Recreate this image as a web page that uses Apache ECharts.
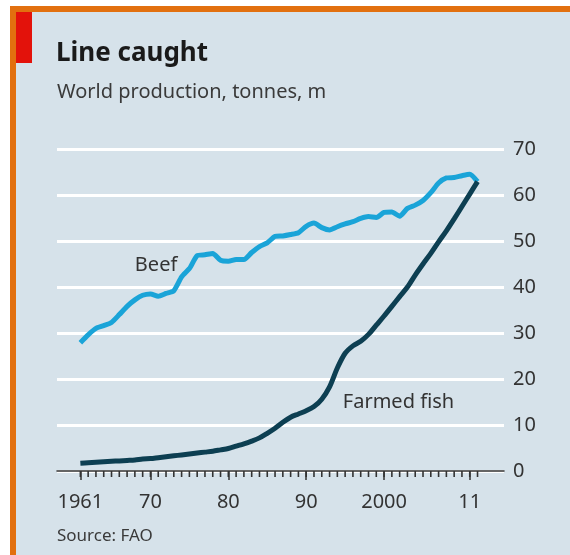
<!DOCTYPE html>
<html>
<head>
    <meta charset="utf-8">
    <title>Line caught</title>
    <script src="https://cdn.jsdelivr.net/npm/echarts@6.0.0/dist/echarts.min.js"></script>
    <style>
        html, body { margin: 0; padding: 0; background: #fff; }
        #chart { width: 570px; height: 555px; }
    </style>
</head>
<body>
<div id="chart"></div>
<script>
    // years 1961-2012
    var years = [];
    for (var y = 1961; y <= 2012; y++) years.push(y);

    // world production, tonnes m
    var beef = [27.9, 29.6, 31.0, 31.6, 32.3, 34.0, 35.8, 37.2, 38.2, 38.5,
                38.0, 38.6, 39.2, 42.2, 44.0, 46.8, 47.0, 47.3, 45.8, 45.6,
                46.0, 46.0, 47.5, 48.8, 49.6, 51.0, 51.1, 51.4, 51.8, 53.2,
                53.9, 52.9, 52.4, 53.1, 53.7, 54.2, 54.9, 55.3, 55.1, 56.2,
                56.3, 55.4, 57.1, 57.8, 58.8, 60.5, 62.6, 63.7, 63.8, 64.2,
                64.5, 62.9];
    var fish = [1.7, 1.8, 1.9, 2.0, 2.1, 2.2, 2.3, 2.4, 2.6, 2.7,
                2.9, 3.1, 3.3, 3.5, 3.7, 3.9, 4.1, 4.3, 4.6, 4.9,
                5.4, 5.9, 6.5, 7.2, 8.2, 9.3, 10.6, 11.7, 12.4, 13.1,
                14.0, 15.6, 18.3, 22.4, 25.6, 27.2, 28.2, 29.7, 31.7, 33.7,
                35.8, 37.9, 40.0, 42.6, 45.0, 47.3, 49.8, 52.2, 54.8, 57.5,
                60.2, 62.9];

    var xLabels = [1961, 1970, 1980, 1990, 2000, 2011];
    var yTicks = [0, 10, 20, 30, 40, 50, 60, 70];

    var font = '"Noto Sans", sans-serif';

    function pairs(vals) {
        return years.map(function(yr, i) { return [yr, vals[i]]; });
    }

    var chart = echarts.init(document.getElementById('chart'));

    var option = {
        backgroundColor: '#d6e2ea',
        animation: false,
        grid: { left: 57, right: 66, top: 149, bottom: 84 },
        xAxis: {
            type: 'value', min: 1958, max: 2015.4,
            axisLine: { show: true, lineStyle: { color: '#333', width: 1.5 } },
            axisTick: { show: true, customValues: xLabels, length: 9, lineStyle: { color: '#333', width: 1.5 } },
            axisLabel: {
                show: true, customValues: xLabels, margin: 21,
                fontFamily: font, fontSize: 20, color: '#333',
                formatter: function(v) {
                    return (v === 1961 || v === 2000) ? String(v) : String(v).slice(2);
                }
            },
            splitLine: { show: false }
        },
        yAxis: {
            type: 'value', position: 'right', min: 0, max: 70, interval: 10,
            axisLine: { show: false },
            axisTick: { show: false },
            axisLabel: { margin: 9, fontFamily: font, fontSize: 20, color: '#333',
                formatter: function(v) { return yTicks.indexOf(v) >= 0 ? String(v) : ''; } },
            splitLine: { show: true, lineStyle: { color: '#ffffff', width: 3 } }
        },
        series: [{
            name: 'Beef', type: 'line', data: pairs(beef),
            showSymbol: false, smooth: 0.2,
            lineStyle: { color: '#1aa4d8', width: 5 }
        }, {
            name: 'Farmed fish', type: 'line', data: pairs(fish),
            showSymbol: false, smooth: 0.3,
            lineStyle: { color: '#0d3f52', width: 5 }
        }, {
            // yearly minor ticks hanging under the axis line
            type: 'custom', silent: true, clip: false, z: 10,
            data: years.map(function(yr) { return [yr, 0]; }),
            renderItem: function(params, api) {
                var p = api.coord([api.value(0), 0]);
                return {
                    type: 'line',
                    shape: { x1: p[0], y1: p[1], x2: p[0], y2: p[1] + 6 },
                    style: { stroke: '#333', lineWidth: 1.6 }
                };
            }
        }]
    };

    chart.setOption(option);

    var beefPos = chart.convertToPixel({ gridIndex: 0 }, [1968.0, 44.8]);
    var fishPos = chart.convertToPixel({ gridIndex: 0 }, [1994.7, 14.9]);

    chart.setOption({
        graphic: [
            // white margin + orange frame
            { type: 'rect', shape: { x: 0, y: 0, width: 570, height: 6 }, style: { fill: '#fff' } },
            { type: 'rect', shape: { x: 0, y: 0, width: 10, height: 555 }, style: { fill: '#fff' } },
            { type: 'rect', shape: { x: 10, y: 6, width: 560, height: 6 }, style: { fill: '#e2700f' } },
            { type: 'rect', shape: { x: 10, y: 6, width: 6, height: 549 }, style: { fill: '#e2700f' } },
            { type: 'rect', shape: { x: 16, y: 12, width: 16, height: 51 }, style: { fill: '#e3120b' } },
            { type: 'text', left: 56, top: 41, style: { text: 'Line caught', font: 'bold 26px ' + font, fill: '#1a1a1a' } },
            { type: 'text', left: 57, top: 82, style: { text: 'World production, tonnes, m', font: '20px ' + font, fill: '#3a3a3a' } },
            { type: 'text', left: 57, top: 528, style: { text: 'Source: FAO', font: '17px ' + font, fill: '#3a3a3a' } },
            { type: 'text', x: beefPos[0], y: beefPos[1], style: { text: 'Beef', font: '20px ' + font, fill: '#333', verticalAlign: 'middle' } },
            { type: 'text', x: fishPos[0], y: fishPos[1], style: { text: 'Farmed fish', font: '20px ' + font, fill: '#333', verticalAlign: 'middle' } }
        ]
    });
</script>
</body>
</html>
